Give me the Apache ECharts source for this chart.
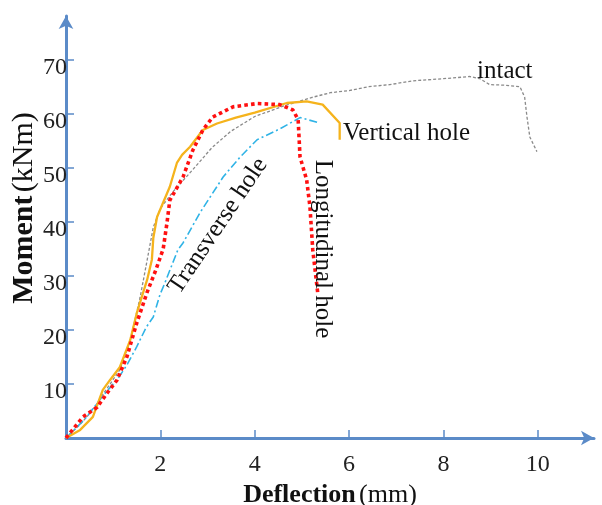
<!DOCTYPE html>
<html>
<head>
<meta charset="utf-8">
<title>Moment - Deflection</title>
<script src="https://cdn.jsdelivr.net/npm/echarts@6/dist/echarts.min.js"></script>
<style>
  html, body { margin: 0; padding: 0; background: #fff; }
  #chart { width: 602px; height: 505px; }
</style>
</head>
<body>
<div id="chart"></div>
<script>
// [deflection mm, moment kNm]
var intact = [
  [0, 0], [0.3, 2.5], [0.57, 5.2], [0.8, 8.3], [1.14, 12.6], [1.36, 18], [1.57, 26],
  [1.7, 32], [1.85, 39], [2.0, 42.5], [2.27, 45.6], [2.7, 49.8], [3.1, 53.8], [3.5, 56.8],
  [4.0, 59.5], [4.6, 61.4], [5.2, 63], [5.6, 63.9], [6.0, 64.3], [6.4, 65], [6.86, 65.4],
  [7.35, 66.1], [8.0, 66.5], [8.56, 66.9], [8.77, 66.5], [8.98, 65.4], [9.3, 65.3],
  [9.62, 65], [9.72, 63.1], [9.77, 59.4], [9.83, 55.7], [9.98, 53]
];
var transverseHole = [
  [0, 0], [0.4, 3.5], [0.8, 8], [1.1, 11], [1.29, 13.5], [1.5, 16.9], [1.7, 20.5],
  [1.85, 22.4], [1.99, 26.5], [2.1, 28.8], [2.37, 34.8], [2.48, 36.1], [2.84, 41.7],
  [3.33, 48.3], [3.69, 52], [4.05, 55.2], [4.53, 57.2], [4.96, 59.3], [5.38, 58.3]
];
var verticalHole = [
  [0, 0], [0.3, 1.5], [0.57, 3.9], [0.78, 8.9], [0.93, 10.7], [1.14, 13.1], [1.36, 18.1],
  [1.5, 23.1], [1.72, 29.3], [1.82, 33], [1.85, 37], [1.93, 40.9], [2.2, 46.5],
  [2.35, 50.9], [2.46, 52.4], [2.63, 53.9], [2.9, 57], [3.2, 58.2], [3.6, 59.3],
  [4.0, 60.2], [4.68, 62], [5.1, 62.3], [5.44, 61.7], [5.8, 58.3], [5.8, 55.2]
];
var longitudinalHole = [
  [0, 0], [0.36, 3.9], [0.66, 5.7], [0.87, 8.3], [1.08, 10.7], [1.29, 15], [1.5, 21.3],
  [1.72, 27], [1.9, 31], [2.06, 35], [2.14, 39.8], [2.2, 44], [2.48, 48.3], [2.69, 53.3],
  [2.9, 57], [3.11, 59.4], [3.54, 61.3], [4.05, 61.9], [4.53, 61.7], [4.81, 60.7],
  [4.92, 58.9], [4.96, 52], [5.1, 47.8], [5.17, 42.8], [5.23, 34.8], [5.32, 28], [5.34, 26.5]
];
var xTicks = [2, 4, 6, 8, 10];
var yTicks = [10, 20, 30, 40, 50, 60, 70];

var serif = "'Liberation Serif', 'Times New Roman', serif";
var axisBlue = '#5b8bc8';

var chart = echarts.init(document.getElementById('chart'), null, { renderer: 'canvas' });

function axisCommon(ticks) {
  return {
    type: 'value',
    min: 0,
    splitLine: { show: false },
    axisLine: {
      lineStyle: { color: axisBlue, width: 3 },
      symbol: ['none', 'arrow'],
      symbolSize: [11, 13]
    },
    axisTick: {
      inside: true,
      length: 8,
      customValues: ticks,
      lineStyle: { color: axisBlue, width: 1.5 }
    }
  };
}

var xAxis = axisCommon(xTicks);
xAxis.max = 11.19;
xAxis.axisLabel = {
  customValues: xTicks,
  margin: 15,
  color: '#222',
  fontFamily: serif,
  fontSize: 24
};
xAxis.name = '{b|Deflection} {n|(mm)}';
xAxis.nameLocation = 'middle';
xAxis.nameGap = 42;
xAxis.nameTextStyle = {
  rich: {
    b: { fontFamily: serif, fontSize: 26, fontWeight: 'bold', color: '#111' },
    n: { fontFamily: serif, fontSize: 26, color: '#111' }
  }
};

var yAxis = axisCommon(yTicks);
yAxis.max = 78.1;
yAxis.axisLabel = {
  customValues: yTicks,
  margin: -1,
  verticalAlign: 'top',
  lineHeight: 16,
  color: '#222',
  fontFamily: serif,
  fontSize: 24
};

function labelText(txt, x, y, rot, align) {
  return {
    type: 'text',
    x: x,
    y: y,
    rotation: rot,
    z: 10,
    style: {
      text: txt,
      fontFamily: serif,
      fontSize: 25,
      fill: '#111',
      align: align || 'center',
      verticalAlign: 'middle'
    }
  };
}

// y axis title, placed by hand
var yTitle = {
  type: 'text',
  x: 24,
  y: 208,
  rotation: Math.PI / 2,
  z: 10,
  style: {
    text: '{b|Moment} {n|(kNm)}',
    align: 'center',
    verticalAlign: 'middle',
    rich: {
      b: { fontFamily: serif, fontSize: 30, fontWeight: 'bold', fill: '#111' },
      n: { fontFamily: serif, fontSize: 30, fill: '#111' }
    }
  }
};

chart.setOption({
  animation: false,
  backgroundColor: '#fff',
  grid: {
    left: 66, right: 8, top: 16, bottom: 67,
    containLabel: false,
    outerBoundsMode: 'none'
  },
  xAxis: xAxis,
  yAxis: yAxis,
  series: [
    {
      name: 'intact', type: 'line', data: intact, showSymbol: false,
      lineStyle: { color: '#8a8a8a', width: 1.3, type: [3, 2] }
    },
    {
      name: 'Transverse hole', type: 'line', data: transverseHole, showSymbol: false,
      lineStyle: { color: '#2fb3e6', width: 1.6, type: [8, 3, 2, 3] }
    },
    {
      name: 'Vertical hole', type: 'line', data: verticalHole, showSymbol: false,
      lineStyle: { color: '#f5b31c', width: 2.3 }
    },
    {
      name: 'Longitudinal hole', type: 'line', data: longitudinalHole, showSymbol: false,
      lineStyle: { color: '#ff1010', width: 3.6, type: [3.6, 3.2], cap: 'butt' }
    }
  ],
  graphic: [
    yTitle,
    labelText('intact', 477, 71, 0, 'left'),
    labelText('Vertical hole', 343, 133, 0, 'left'),
    labelText('Longitudinal hole', 323, 249, -Math.PI / 2),
    labelText('Transverse hole', 218, 226, 56 * Math.PI / 180)
  ]
});
</script>
</body>
</html>
